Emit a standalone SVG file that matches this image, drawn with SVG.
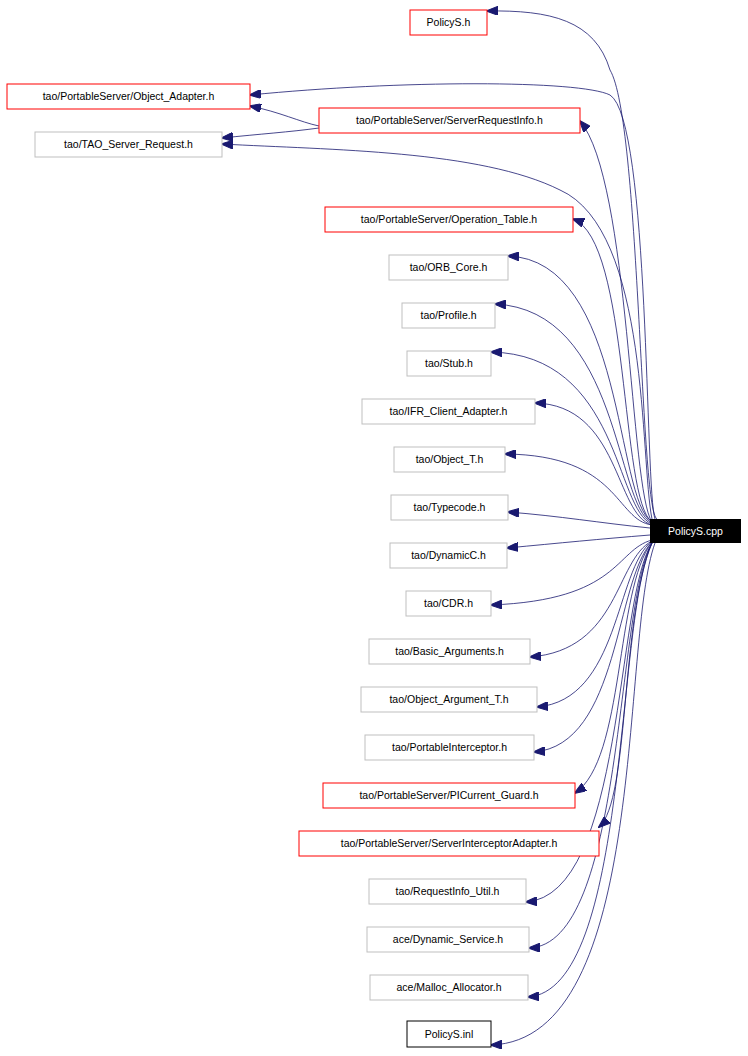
<svg xmlns="http://www.w3.org/2000/svg" width="748" height="1056" viewBox="0 0 748 1056">
<style>
text{font-family:"Liberation Sans",Arial,sans-serif;font-size:10.5px;text-anchor:middle}
.n rect{fill:#fff;stroke:#bfbfbf;stroke-width:1}
.r rect{stroke:#ff0000}
.k rect{stroke:#000}
#connectors path{fill:none;stroke:#191970;stroke-width:0.8;marker-end:url(#a)}
</style>
<defs><marker id="a" markerWidth="12" markerHeight="9" refX="11" refY="4.5" orient="auto" markerUnits="userSpaceOnUse"><path d="M12,4.5L0,0L0,9z" fill="#191970" stroke="#191970"/></marker></defs>
<rect width="748" height="1056" fill="#fff"/>
<g id="connectors">
<path d="M657,519C640,510 640,120 610,70C595,20 550,10 487,11"/>
<path d="M655,519C645,490 650,120 610,95C580,80 400,80 250,95"/>
<path d="M319,126C300,122 280,112 250,106"/>
<path d="M319,128C290,132 260,134 222,138"/>
<path d="M652,519C640,460 650,230 560,190C480,150 330,150 222,144"/>
<path d="M652,522C630,490 630,180 580,121"/>
<path d="M652,522C620,500 630,240 573,219"/>
<path d="M652,522C615,500 625,260 508,256"/>
<path d="M652,523C615,505 620,310 495,304"/>
<path d="M652,524C615,510 620,355 491,352"/>
<path d="M652,525C615,515 620,405 535,403"/>
<path d="M652,525C615,520 620,455 505,454"/>
<path d="M650,528C600,523 560,516 508,512"/>
<path d="M650,535C600,539 560,543 507,548"/>
<path d="M652,540C615,550 620,600 491,605"/>
<path d="M652,541C615,560 620,650 530,657"/>
<path d="M652,541C615,570 620,700 537,707"/>
<path d="M652,542C615,580 620,745 534,752"/>
<path d="M652,542C615,590 625,760 575,793"/>
<path d="M652,543C620,620 630,800 599,827"/>
<path d="M652,543C615,600 625,895 526,902"/>
<path d="M652,543C615,610 625,945 529,948"/>
<path d="M652,543C615,620 630,990 528,997"/>
<path d="M655,543C620,640 650,1040 491,1045"/>
</g>
<g id="n1" class="n r"><rect x="410" y="10" width="77" height="25"/><text x="448.5" y="26">PolicyS.h</text></g>
<g id="n2" class="n r"><rect x="7" y="84" width="243" height="25"/><text x="128.5" y="100">tao/PortableServer/Object_Adapter.h</text></g>
<g id="n3" class="n r"><rect x="319" y="108" width="261" height="25"/><text x="449.5" y="124">tao/PortableServer/ServerRequestInfo.h</text></g>
<g id="n4" class="n"><rect x="35" y="132" width="187" height="25"/><text x="128.5" y="148">tao/TAO_Server_Request.h</text></g>
<g id="n5" class="n r"><rect x="325" y="207" width="248" height="25"/><text x="449" y="223">tao/PortableServer/Operation_Table.h</text></g>
<g id="n6" class="n"><rect x="389" y="255" width="119" height="25"/><text x="448.5" y="271">tao/ORB_Core.h</text></g>
<g id="n7" class="n"><rect x="402" y="303" width="93" height="25"/><text x="448.5" y="319">tao/Profile.h</text></g>
<g id="n8" class="n"><rect x="407" y="351" width="84" height="25"/><text x="449" y="367">tao/Stub.h</text></g>
<g id="n9" class="n"><rect x="362" y="399" width="173" height="25"/><text x="448.5" y="415">tao/IFR_Client_Adapter.h</text></g>
<g id="n10" class="n"><rect x="394" y="447" width="111" height="25"/><text x="449.5" y="463">tao/Object_T.h</text></g>
<g id="n11" class="n"><rect x="391" y="495" width="117" height="25"/><text x="449.5" y="511">tao/Typecode.h</text></g>
<g id="n12" class="n"><rect x="390" y="543" width="117" height="25"/><text x="448.5" y="559">tao/DynamicC.h</text></g>
<g id="n13" class="n"><rect x="406" y="591" width="85" height="25"/><text x="448.5" y="607">tao/CDR.h</text></g>
<g id="n14" class="n"><rect x="369" y="639" width="161" height="25"/><text x="449.5" y="655">tao/Basic_Arguments.h</text></g>
<g id="n15" class="n"><rect x="361" y="687" width="176" height="25"/><text x="449" y="703">tao/Object_Argument_T.h</text></g>
<g id="n16" class="n"><rect x="365" y="735" width="169" height="25"/><text x="449.5" y="751">tao/PortableInterceptor.h</text></g>
<g id="n17" class="n r"><rect x="323" y="783" width="252" height="25"/><text x="449" y="799">tao/PortableServer/PICurrent_Guard.h</text></g>
<g id="n18" class="n r"><rect x="299" y="831" width="300" height="25"/><text x="449" y="847">tao/PortableServer/ServerInterceptorAdapter.h</text></g>
<g id="n19" class="n"><rect x="369" y="879" width="157" height="25"/><text x="447.5" y="895">tao/RequestInfo_Util.h</text></g>
<g id="n20" class="n"><rect x="367" y="927" width="162" height="25"/><text x="448" y="943">ace/Dynamic_Service.h</text></g>
<g id="n21" class="n"><rect x="370" y="975" width="158" height="25"/><text x="449" y="991">ace/Malloc_Allocator.h</text></g>
<g id="n22" class="n k"><rect x="407" y="1021" width="84" height="26"/><text x="449" y="1038">PolicyS.inl</text></g>
<g id="n23"><rect x="650" y="519" width="91" height="24" fill="#000"/><text x="695.5" y="535" fill="#fff">PolicyS.cpp</text></g>
</svg>
